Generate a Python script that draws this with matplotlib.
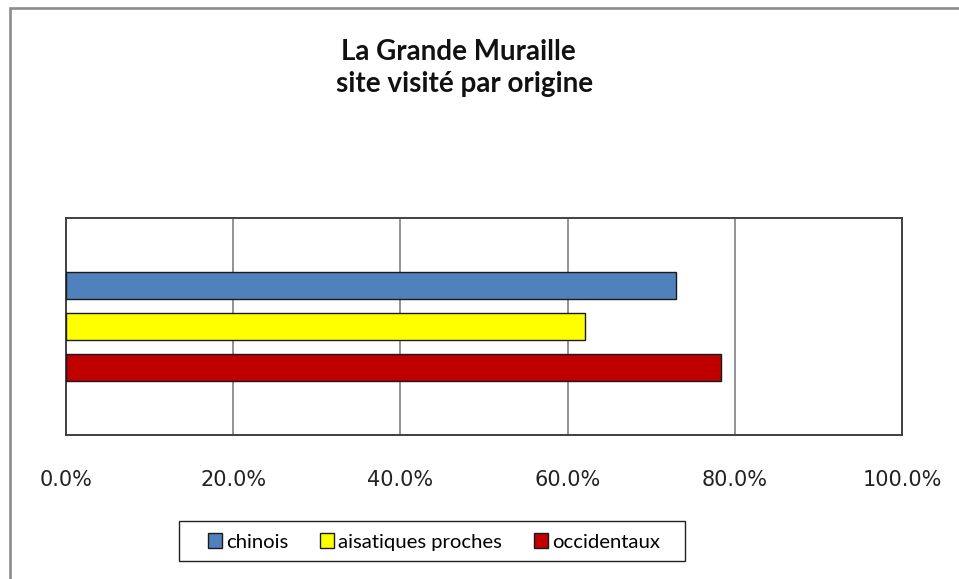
import matplotlib
matplotlib.use("Agg")
import matplotlib.pyplot as plt
from matplotlib.patches import Patch, Rectangle
from matplotlib.lines import Line2D
from matplotlib.ticker import FuncFormatter

# Share of visitors per origin who visited the site
series = ["chinois", "aisatiques proches", "occidentaux"]
values = [0.730, 0.621, 0.784]
colors = ["#4F81BD", "#FFFF00", "#C00000"]
tick_values = [0.0, 0.2, 0.4, 0.6, 0.8, 1.0]

W, H, DPI = 959, 579, 100
fig = plt.figure(figsize=(W / DPI, H / DPI), dpi=DPI)
fig.patch.set_facecolor("white")

def fx(px):
    return px / W

def fy(py):
    return 1 - py / H

# Outer chart frame (left and top edges)
frame = Line2D([fx(9.5), fx(9.5), fx(960)], [fy(580), fy(7.5), fy(7.5)],
               transform=fig.transFigure, color="#8c8c8c", lw=1.9,
               solid_joinstyle="miter")
fig.add_artist(frame)

ax = fig.add_axes([fx(66), fy(435), fx(836), (435 - 218) / H])

positions = [1, 0, -1]
bar_h = 0.655
for pos, val, col in zip(positions, values, colors):
    ax.barh(pos, val, height=bar_h, color=col, edgecolor="#1a1a1a",
            linewidth=1.0, zorder=3)

ax.set_xlim(0, 1.0)
ax.set_ylim(-2.63, 2.63)
ax.set_xticks(tick_values)
ax.xaxis.set_major_formatter(FuncFormatter(lambda v, _: f"{v * 100:.1f}%"))
ax.set_yticks([])
ax.tick_params(axis="x", length=0, pad=25, labelsize=15,
               labelcolor="#222222")
for lab in ax.get_xticklabels():
    lab.set_fontfamily("DejaVu Sans")

ax.grid(axis="x", color="#8a8a8a", lw=1.3, zorder=0)
for s in ax.spines.values():
    s.set_color("#404040")
    s.set_linewidth(1.4)

fig.text(fx(458), fy(52), "La Grande Muraille", ha="center", va="center",
         fontsize=20, fontweight="bold", family="Lato", color="#111111")
fig.text(fx(465), fy(84), "site visité par origine", ha="center",
         va="center", fontsize=20, fontweight="bold", family="Lato",
         color="#111111")

# Legend box
box = Rectangle((fx(179), fy(561)), fx(685) - fx(179), fy(521) - fy(561),
                transform=fig.transFigure, facecolor="white",
                edgecolor="#222222", linewidth=1.0, zorder=1)
fig.add_artist(box)

handles = [Patch(facecolor=c, edgecolor="#1a1a1a", linewidth=1.0)
           for c in colors]
leg = fig.legend(handles, series, loc="center", ncol=3,
                 bbox_to_anchor=(fx(434), fy(542)), frameon=False,
                 prop={"family": "Lato", "size": 14.6},
                 handlelength=0.7, handleheight=0.7, handletextpad=0.2,
                 columnspacing=1.55, borderpad=0.0, borderaxespad=0)
leg.set_zorder(2)

fig.savefig("out.png", dpi=DPI)
